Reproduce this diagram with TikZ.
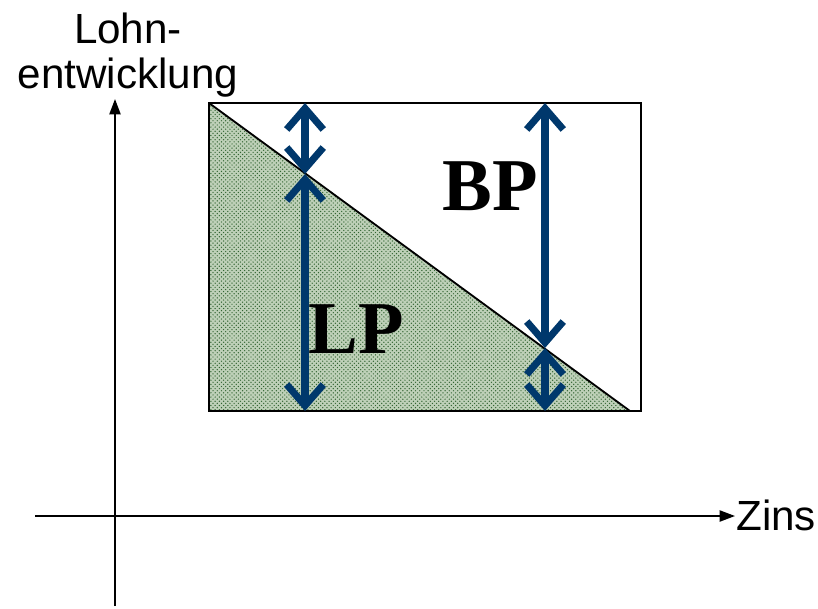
\documentclass[tikz,border=0pt]{standalone}
\usepackage{fontspec}
\setmainfont{Liberation Sans}
\newfontfamily\serifbold{Liberation Serif}[BoldFont={Liberation Serif Bold}]
\usepackage{xcolor}
\usetikzlibrary{arrows.meta,patterns}
\definecolor{pfeilblau}{RGB}{0,56,108}
\definecolor{flaeche}{RGB}{190,208,184}
\definecolor{raster}{RGB}{50,100,50}
\tikzset{
	achse/.style={line width=1.2pt, -{Triangle[length=11pt,width=8pt]}},
	teil/.style={pfeilblau, line width=5pt, line cap=round,
		{Straight Barb[length=15pt,width=26pt,line width=5pt]}-{Straight Barb[length=15pt,width=26pt,line width=5pt]}},
	marke/.style={font=\serifbold\bfseries\fontsize{53}{53}\selectfont, inner sep=0pt},
	beschr/.style={font=\fontsize{30}{32}\selectfont, inner sep=0pt}
}
\begin{document}
\begin{tikzpicture}[x=0.025cm, y=-0.025cm]
		\useasboundingbox (0,0) rectangle (818,608);
		% Rechteck und Dreieck
		\coordinate (OL) at (209,103);   % oben links
		\coordinate (OR) at (641,103);   % oben rechts
		\coordinate (UL) at (209,411);   % unten links
		\coordinate (UR) at (641,411);   % unten rechts
		\coordinate (D) at (630,411);    % Ende der Diagonale
		\fill[flaeche] (OL) -- (D) -- (UL) -- cycle;
		\fill[pattern=crosshatch dots, pattern color=raster] (OL) -- (D) -- (UL) -- cycle;
		\draw[line width=1.3pt] (OL) -- (OR) -- (UR) -- (UL) -- cycle;
		\draw[line width=1.3pt] (OL) -- (D);
		
		% Achsen
		\coordinate (Y0) at (115,606);
		\coordinate (Y1) at (115,99);
		\coordinate (X0) at (35,516);
		\coordinate (X1) at (735,516);
		\draw[achse] (Y0) -- (Y1);
		\draw[achse] (X0) -- (X1);
		\node[beschr, anchor=south, align=center] (lohn) at (128,98) {Lohn-\\entwicklung};
		\node[beschr, anchor=west] (zins) at (736,515) {Zins};
		
		% Pfeile links
		\coordinate (A1) at (305,103);
		\coordinate (A2) at (305,174);
		\coordinate (A3) at (305,411);
		\draw[teil] (A1) -- (A2);
		\draw[teil] (A2) -- (A3);
		% Pfeile rechts
		\coordinate (B1) at (545,103);
		\coordinate (B2) at (545,348);
		\coordinate (B3) at (545,411);
		\draw[teil] (B1) -- (B2);
		\draw[teil] (B2) -- (B3);
		
		\node[marke] (bp) at (490,186) {BP};
		\node[marke] (lp) at (356,329) {LP};
	\end{tikzpicture}
\end{document}
